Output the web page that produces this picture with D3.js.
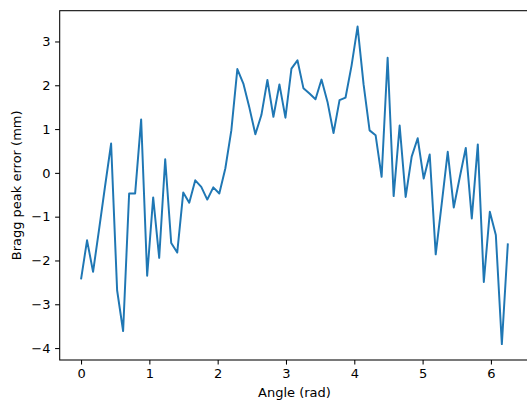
<!DOCTYPE html>
<html>
<head>
<meta charset="utf-8">
<script src="https://cdn.jsdelivr.net/npm/d3@7"></script>
<style>
  html, body { margin: 0; padding: 0; background: #fff; }
  svg { display: block; }
  text { font-family: "DejaVu Sans", sans-serif; fill: #000; }
</style>
</head>
<body>
<svg id="chart" width="527" height="403"></svg>
<script>
// Rotation angle of each scan step (rad)
const angles = [
  0.000, 0.088, 0.176, 0.264, 0.352, 0.440, 0.528, 0.616, 0.704, 0.792,
  0.880, 0.968, 1.056, 1.144, 1.232, 1.320, 1.408, 1.496, 1.584, 1.672,
  1.760, 1.848, 1.936, 2.024, 2.112, 2.200, 2.288, 2.376, 2.464, 2.552,
  2.640, 2.728, 2.816, 2.904, 2.992, 3.080, 3.168, 3.256, 3.344, 3.432,
  3.520, 3.608, 3.696, 3.784, 3.872, 3.960, 4.048, 4.136, 4.224, 4.312,
  4.400, 4.488, 4.576, 4.664, 4.752, 4.840, 4.928, 5.016, 5.104, 5.192,
  5.280, 5.368, 5.456, 5.544, 5.632, 5.720, 5.808, 5.896, 5.984, 6.072,
  6.160, 6.248
];

// Bragg peak position error at each angle (mm)
const braggError = [
  -2.43, -1.54, -2.26, -1.29, -0.30,  0.67, -2.68, -3.61, -0.47, -0.47,
   1.22, -2.35, -0.56, -1.94,  0.31, -1.60, -1.82, -0.45, -0.68, -0.17,
  -0.32, -0.61, -0.33, -0.47,  0.10,  0.97,  2.37,  2.04,  1.49,  0.88,
   1.32,  2.12,  1.28,  2.02,  1.26,  2.38,  2.57,  1.93,  1.81,  1.68,
   2.13,  1.62,  0.91,  1.66,  1.72,  2.45,  3.34,  2.02,  0.97,  0.86,
  -0.09,  2.63, -0.53,  1.08, -0.55,  0.37,  0.79, -0.13,  0.42, -1.86,
  -0.70,  0.48, -0.79, -0.10,  0.57, -1.04,  0.65, -2.49, -0.89, -1.42,
  -3.91, -1.61
];

const xTicks = [0, 1, 2, 3, 4, 5, 6];
const yTicks = [-4, -3, -2, -1, 0, 1, 2, 3];

const xLabel = "Angle (rad)";
const yLabel = "Bragg peak error (mm)";

// Plot area
const plot = { left: 59.7, right: 529.2, top: 10.7, bottom: 360 };
const lineColor = "#1f77b4";
const tickLen = 4.6, tickPad = 4.6, fontSize = 13;

// Pad each data extent by 5% on both sides
function padded(values) {
  const [lo, hi] = d3.extent(values);
  const m = (hi - lo) * 0.05;
  return [lo - m, hi + m];
}

const x = d3.scaleLinear().domain(padded(angles)).range([plot.left, plot.right]);
const y = d3.scaleLinear().domain(padded(braggError)).range([plot.bottom, plot.top]);

const svg = d3.select("#chart");

const points = angles.map((a, i) => [a, braggError[i]]);

svg.append("path")
  .datum(points)
  .attr("fill", "none")
  .attr("stroke", lineColor)
  .attr("stroke-width", 1.97)
  .attr("stroke-linejoin", "round")
  .attr("stroke-linecap", "butt")
  .attr("d", d3.line().x(d => x(d[0])).y(d => y(d[1])));

// Axes frame
svg.append("rect")
  .attr("x", plot.left).attr("y", plot.top)
  .attr("width", plot.right - plot.left)
  .attr("height", plot.bottom - plot.top)
  .attr("fill", "none")
  .attr("stroke", "#000")
  .attr("stroke-width", 1.05);

const fmt = d3.format("d");

// Bottom axis
const xAxis = d3.axisBottom(x)
  .tickValues(xTicks)
  .tickFormat(fmt)
  .tickSize(tickLen)
  .tickPadding(tickPad);
const gx = svg.append("g")
  .attr("transform", `translate(0,${plot.bottom})`)
  .call(xAxis);
gx.select(".domain").remove();
gx.selectAll(".tick line").attr("stroke", "#000").attr("stroke-width", 1.05);
gx.selectAll(".tick text")
  .attr("font-size", fontSize)
  .attr("font-family", "DejaVu Sans, sans-serif")
  .attr("fill", "#000");

// Left axis
const yAxis = d3.axisLeft(y)
  .tickValues(yTicks)
  .tickFormat(fmt)
  .tickSize(tickLen)
  .tickPadding(tickPad);
const gy = svg.append("g")
  .attr("transform", `translate(${plot.left},0)`)
  .call(yAxis);
gy.select(".domain").remove();
gy.selectAll(".tick line").attr("stroke", "#000").attr("stroke-width", 1.05);
gy.selectAll(".tick text")
  .attr("font-size", fontSize)
  .attr("font-family", "DejaVu Sans, sans-serif")
  .attr("fill", "#000");

// Axis titles
svg.append("text")
  .attr("x", (plot.left + plot.right) / 2)
  .attr("y", 397.4)
  .attr("text-anchor", "middle")
  .attr("font-size", fontSize)
  .text(xLabel);

svg.append("text")
  .attr("transform", `translate(21,${(plot.top + plot.bottom) / 2}) rotate(-90)`)
  .attr("text-anchor", "middle")
  .attr("font-size", fontSize)
  .text(yLabel);
</script>
</body>
</html>
